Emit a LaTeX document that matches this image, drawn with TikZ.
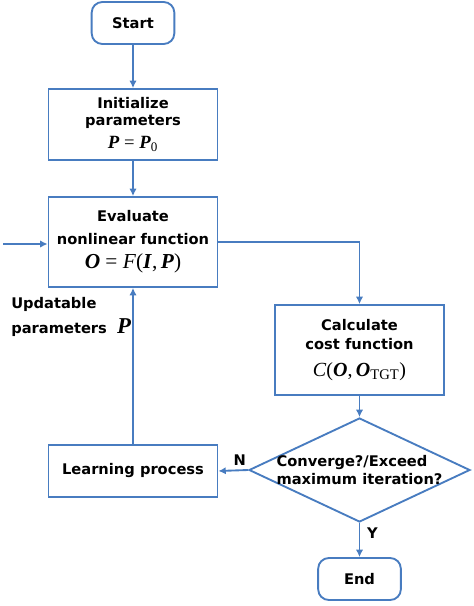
\documentclass[tikz,border=0pt]{standalone}
\usepackage{fontspec}
\setmainfont{DejaVu Sans}
\newfontfamily\formfont{Liberation Serif}
\usetikzlibrary{arrows.meta,positioning,shapes.geometric}
\definecolor{flowblue}{RGB}{72,124,192}
\newcommand{\bi}[1]{\textbf{\textit{#1}}}
\newcommand{\frm}[1]{\formfont\mdseries\upshape\fontsize{#1}{#1}\selectfont}

\begin{document}
\begin{tikzpicture}[
  x=0.75pt, y=-0.75pt, line width=1.4pt,
  base/.style={draw=flowblue, fill=white, font=\bfseries\fontsize{11}{13}\selectfont,
               align=center, inner sep=0pt},
  terminal/.style={base, rounded corners=8pt, minimum width=62pt, minimum height=31.5pt},
  procbox/.style={base, minimum width=126.75pt},
  decision/.style={base, diamond, aspect=2.1, inner sep=-7pt, align=left,
                   minimum width=165.75pt, minimum height=78pt},
  arr/.style={-{Latex[length=5.5pt,width=5.5pt]}, draw=flowblue},
  flowlabel/.style={font=\bfseries\fontsize{11}{13}\selectfont, inner sep=1pt}
]
  \useasboundingbox (0,0) rectangle (474,606);

  % terminals and steps
  \node[terminal] (start) at (133,23) {Start};
  \node[procbox, minimum height=53.25pt] (init) at (133,124.5)
       {Initialize\\parameters\\[4pt]{\frm{14}\bi{P} = \bi{P}\textsubscript{0}}};
  \node[procbox, minimum height=67.5pt] (eval) at (133,242)
       {Evaluate\\[4pt]nonlinear function\\[5pt]{\frm{16}\bi{O} = \textit{F}(\bi{I},\,\bi{P})}};
  \node[procbox, minimum height=67.5pt] (calc) at (359.5,350)
       {Calculate\\[1pt]cost function\\[7pt]{\frm{15}\textit{C}(\bi{O},\,\bi{O}\textsubscript{\fontsize{11}{11}\selectfont TGT})}};
  \node[decision] (conv) at (359.5,470)
       {Converge?/Exceed\\maximum iteration?};
  \node[procbox, minimum height=39pt] (learn) at (133,471) {Learning process};
  \node[terminal] (end) at (359.5,579) {End};

  % side label
  \node[flowlabel, anchor=west, align=left] (upd) at (9,317)
       {Updatable\\[5pt]parameters\ \ {\frm{17}\bi{P}}};

  % connectors
  \coordinate (in) at (3,244);
  \draw[arr] (start) -- (init);
  \draw[arr] (init) -- (eval);
  \draw[arr] (in) -- (in -| eval.west);
  \draw[arr] (eval.east) -| (calc.north);
  \draw[arr] (calc) -- (conv);
  \draw[arr] (conv.west) -- (learn.east)
       node[flowlabel, pos=0.28, above=2pt] {N};
  \draw[arr] (learn) -- (eval);
  \draw[arr] (conv.south) -- (end)
       node[flowlabel, pos=0.3, right=4pt] {Y};
\end{tikzpicture}
\end{document}
